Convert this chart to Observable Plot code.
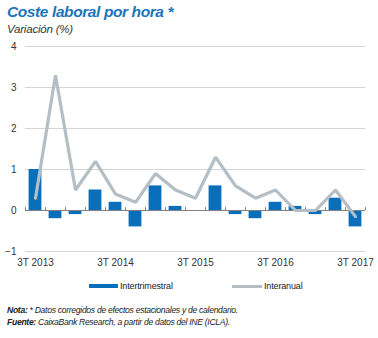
<!DOCTYPE html>
<html>
<head>
<meta charset="utf-8">
<script src="https://cdn.jsdelivr.net/npm/d3@7"></script>
<script src="https://cdn.jsdelivr.net/npm/@observablehq/plot@0.6"></script>
<style>
  html, body { margin: 0; padding: 0; background: #fff; }
  body { position: relative; width: 378px; height: 338px; overflow: hidden; font-family: "Liberation Sans", Arial, sans-serif; color: #333; }
  .abs { position: absolute; white-space: nowrap; }
  #title { left: 7px; top: 4px; font-size: 15.5px; line-height: 15px; font-weight: bold; font-style: italic; color: #1b75bc; letter-spacing: -0.4px; }
  #subtitle { left: 7px; top: 24px; font-size: 11.5px; line-height: 11px; font-style: italic; color: #333; letter-spacing: -0.2px; }
  #chart { left: 0; top: 38px; }
  .sw { position: absolute; }
  .leg { font-size: 9px; line-height: 10px; color: #222; letter-spacing: -0.15px; }
  .note { left: 7px; font-size: 8.6px; line-height: 12px; font-style: italic; color: #222; letter-spacing: -0.3px; }
</style>
</head>
<body>
<div id="title" class="abs">Coste laboral por hora *</div>
<div id="subtitle" class="abs">Variación (%)</div>
<div id="chart" class="abs"></div>
<div class="sw" style="left:89px; top:284px; width:29px; height:4px; background:#0a6fba;"></div>
<div class="abs leg" style="left:120px; top:281px;">Intertrimestral</div>
<div class="sw" style="left:232px; top:285px; width:30px; height:3px; background:#b4bec4;"></div>
<div class="abs leg" style="left:264px; top:281px;">Interanual</div>
<div class="abs note" style="top:304px;"><b>Nota:</b> * Datos corregidos de efectos estacionales y de calendario.</div>
<div class="abs note" style="top:316px;"><b>Fuente:</b> CaixaBank Research, a partir de datos del INE (ICLA).</div>
<script>
const quarters = ["3T 2013","4T 2013","1T 2014","2T 2014","3T 2014","4T 2014","1T 2015","2T 2015","3T 2015","4T 2015","1T 2016","2T 2016","3T 2016","4T 2016","1T 2017","2T 2017","3T 2017"];
const intertrimestral = [1.0, -0.2, -0.1, 0.5, 0.2, -0.4, 0.6, 0.1, 0.0, 0.6, -0.1, -0.2, 0.2, 0.1, -0.1, 0.3, -0.4];
const interanual = [0.3, 3.3, 0.5, 1.2, 0.4, 0.2, 0.9, 0.5, 0.3, 1.3, 0.6, 0.3, 0.5, 0.0, 0.0, 0.5, -0.15];
const yTicks = [-1, 0, 1, 2, 3, 4];
const xTickLabels = ["3T 2013", "3T 2014", "3T 2015", "3T 2016", "3T 2017"];

const data = quarters.map((q, i) => ({ i, q, inter: intertrimestral[i], anual: interanual[i] }));
const xTickIdx = xTickLabels.map(l => quarters.indexOf(l));
const bounds = d3.range(quarters.length + 1).map(k => k - 0.5);

const chart = Plot.plot({
  width: 378,
  height: 235,
  marginLeft: 25,
  marginRight: 13,
  marginTop: 8,
  marginBottom: 22,
  style: { fontFamily: "Liberation Sans, Arial, sans-serif", color: "#333", background: "#fff" },
  x: { domain: [-0.5, quarters.length - 0.5], axis: null, label: null },
  y: { domain: [-1, 4], axis: null, label: null },
  marks: [
    Plot.ruleY(yTicks.filter(v => v !== 0), { stroke: "#d4d4d4", strokeWidth: 1 }),
    Plot.rectY(data, { x1: d => d.i - 0.32, x2: d => d.i + 0.32, y1: 0, y2: "inter", fill: "#0a6fba" }),
    Plot.ruleY([0], { stroke: "#808080", strokeWidth: 1 }),
    Plot.ruleX(bounds, { y1: 0, y2: 0.07, stroke: "#808080", strokeWidth: 1 }),
    Plot.line(data, { x: "i", y: "anual", stroke: "#b4bec4", strokeWidth: 3.2, strokeLinejoin: "miter" }),
    Plot.axisY(yTicks, { anchor: "left", label: null, tickSize: 0, tickPadding: 9, fontSize: 10, fill: "#333" }),
    Plot.axisX(xTickIdx, { anchor: "bottom", label: null, tickSize: 0, tickPadding: 7, fontSize: 10, fill: "#333", tickFormat: i => quarters[i] })
  ]
});
document.getElementById("chart").appendChild(chart);
</script>
</body>
</html>
